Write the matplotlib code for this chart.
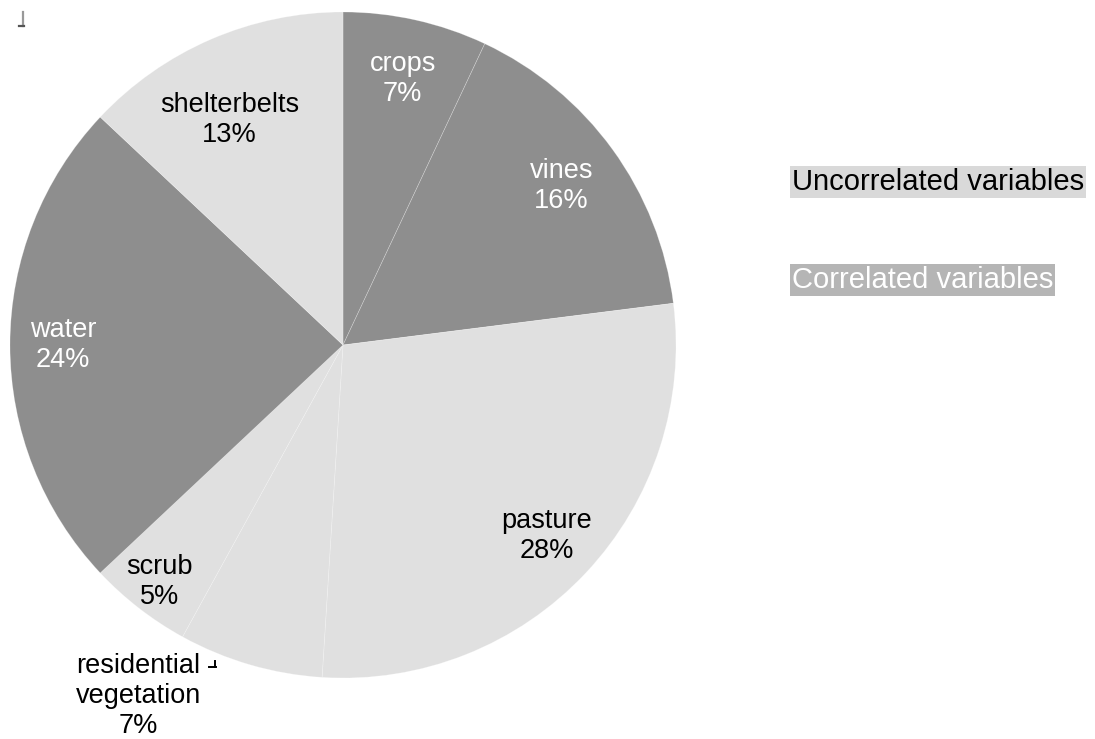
import numpy as np
import matplotlib
matplotlib.use("Agg")
import matplotlib.pyplot as plt
from matplotlib.lines import Line2D

plt.rcParams['font.family'] = ['Liberation Sans', 'DejaVu Sans']

labels = ["crops", "vines", "pasture", "residential\nvegetation", "scrub", "water", "shelterbelts"]
shares = [7, 16, 28, 7, 5, 24, 13]
correlated = [True, True, False, False, False, True, False]
legend_names = ["Uncorrelated variables", "Correlated variables"]

dark = "#8e8e8e"
light = "#e0e0e0"
colors = [dark if c else light for c in correlated]
# radial position of each label (fraction of radius), residential sits outside
label_r = [0.82, 0.81, 0.84, 1.22, 0.90, 0.84, 0.757]
label_shift = [0, 0, 0, -14, 0, 0, 3.3]   # degrees of extra turn

fig = plt.figure(figsize=(10.95, 7.39), dpi=100)
ax = fig.add_axes([10 / 1095, 61 / 739, 666 / 1095, 666 / 739])

wedges, _ = ax.pie(shares, colors=colors, startangle=90, counterclock=False,
                   radius=1.0, wedgeprops=dict(linewidth=0.5))
for w in wedges:
    w.set_edgecolor((1, 1, 1, 0.3))
ax.set_xlim(-1, 1)
ax.set_ylim(-1, 1)
ax.axis("off")

for w, lab, val, r, sh, c in zip(wedges, labels, shares, label_r, label_shift, correlated):
    mid = np.deg2rad((w.theta1 + w.theta2) / 2 + sh)
    x, y = r * np.cos(mid), r * np.sin(mid)
    ax.text(x, y, f"{lab}\n{val}%", ha="center", va="center", fontsize=19.5,
            color="white" if c else "black", linespacing=1.2)

fig.text(792 / 1095, 1 - 182 / 739, legend_names[0], fontsize=21, color="black",
         ha="left", va="center",
         bbox=dict(boxstyle="square,pad=0.06", fc="#d9d9d9", ec="none"))
fig.text(792 / 1095, 1 - 280 / 739, legend_names[1], fontsize=21, color="white",
         ha="left", va="center",
         bbox=dict(boxstyle="square,pad=0.06", fc="#b5b5b5", ec="none"))

# small corner marks (pixel coords -> figure fraction)
def px(xs, ys):
    return [v / 1095 for v in xs], [1 - v / 739 for v in ys]

for xs, ys, col, lw in [([23, 23], [12, 26], "#999999", 1.6),
                        ([19, 23.5], [26, 26], "#555555", 1.6),
                        ([215, 215], [661, 667], "black", 1.4),
                        ([209, 215.5], [667, 667], "black", 1.4)]:
    lx, ly = px(xs, ys)
    fig.add_artist(Line2D(lx, ly, color=col, lw=lw))

fig.savefig("out.png", dpi=100)
